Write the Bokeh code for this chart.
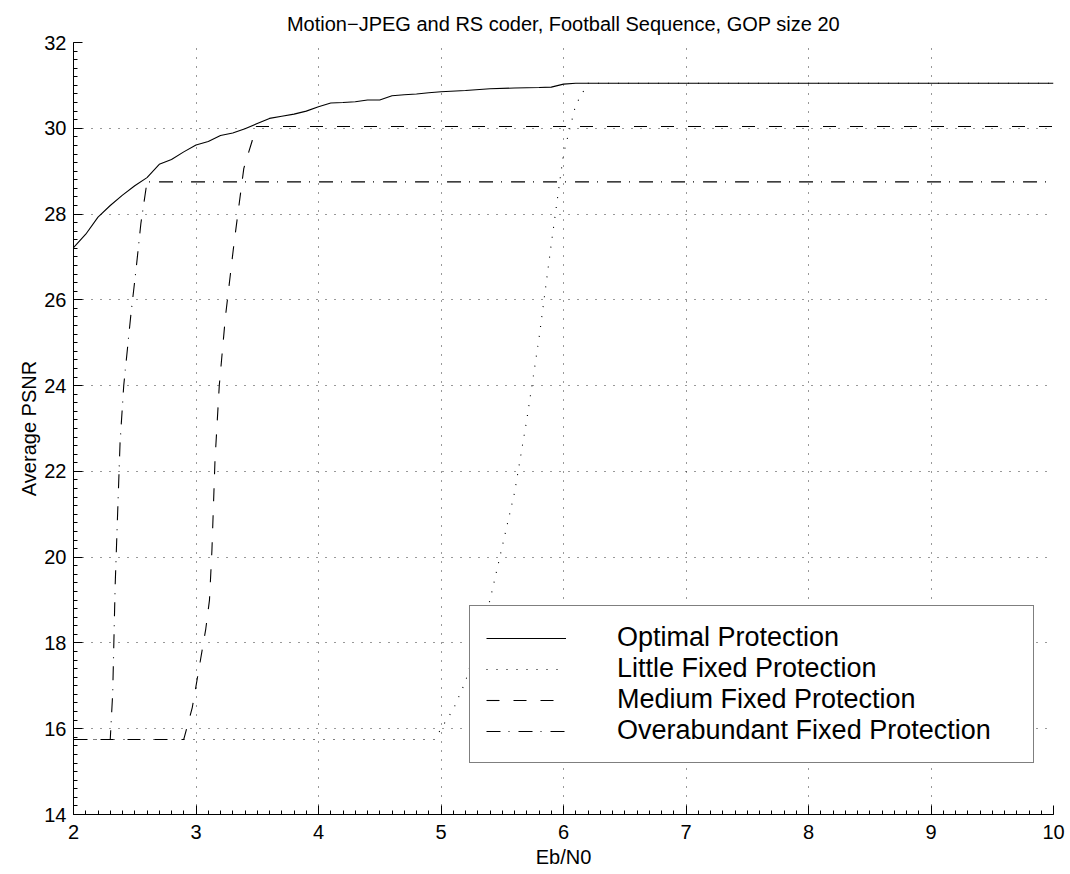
from bokeh.plotting import figure
from bokeh.embed import file_html
from bokeh.resources import INLINE
from bokeh.models import Range1d, Legend, LegendItem, SingleIntervalTicker, Title

# ---------------- data ----------------
opt_x = [2.0, 2.1, 2.2, 2.3, 2.4, 2.5, 2.6, 2.7, 2.8, 2.9, 3.0, 3.1, 3.2, 3.3, 3.4,
         3.5, 3.6, 3.7, 3.8, 3.9, 4.0, 4.1, 4.2, 4.3, 4.4, 4.5, 4.6, 4.7, 4.8, 4.9,
         5.0, 5.2, 5.4, 5.6, 5.8, 5.9, 6.0, 6.1, 6.2, 10.0]
opt_y = [27.22, 27.53, 27.93, 28.20, 28.44, 28.66, 28.85, 29.16, 29.27, 29.45, 29.61,
         29.69, 29.83, 29.89, 29.99, 30.11, 30.23, 30.28, 30.33, 30.40, 30.50, 30.59,
         30.60, 30.62, 30.66, 30.66, 30.76, 30.78, 30.80, 30.83, 30.85, 30.88, 30.92,
         30.94, 30.95, 30.96, 31.03, 31.05, 31.05, 31.05]

little_x = [2.0, 4.95, 5.0, 5.1, 5.2, 5.4, 5.6, 5.7, 5.8, 5.9, 6.0, 6.1, 6.2, 10.0]
little_y = [15.75, 15.75, 16.0, 16.45, 17.1, 19.0, 21.5, 23.2, 25.1, 27.3, 29.4, 30.55, 31.05, 31.05]

medium_x = [2.0, 2.9, 2.97, 3.01, 3.08, 3.11, 3.13, 3.155, 3.19, 3.24, 3.31, 3.39, 3.41, 3.46, 3.49, 10.0]
medium_y = [15.75, 15.75, 16.5, 17.16, 18.33, 19.0, 20.16, 22.25, 24.0, 25.6, 27.31, 29.06, 29.26, 29.72, 30.04, 30.04]

over_x = [2.0, 2.3, 2.32, 2.34, 2.36, 2.38, 2.41, 2.47, 2.51, 2.55, 2.6, 10.0]
over_y = [15.75, 15.75, 16.83, 19.33, 21.0, 22.66, 24.0, 25.7, 26.69, 27.78, 28.75, 28.75]

series_names = ["Optimal Protection", "Little Fixed Protection",
                "Medium Fixed Protection", "Overabundant Fixed Protection"]

title_text = "Motion\u2212JPEG and RS coder, Football Sequence, GOP size 20"
x_label = "Eb/N0"
y_label = "Average PSNR"

FONT = "Liberation Sans"

p = figure(output_backend="svg", toolbar_location=None,
           frame_width=980, frame_height=772,
           min_border_left=73, min_border_right=16,
           min_border_top=42, min_border_bottom=60,
           x_range=Range1d(2, 10), y_range=Range1d(14, 32))

p.outline_line_color = None
p.background_fill_color = "white"
p.border_fill_color = "white"


def make_title(text, standoff):
    t = Title(text=text, align="center", standoff=standoff)
    t.text_font = FONT
    t.text_font_size = "20px"
    t.text_font_style = "normal"
    t.text_color = "black"
    return t


p.add_layout(make_title(title_text, 16), "above")

p.xaxis.ticker = SingleIntervalTicker(interval=1, num_minor_ticks=10)
p.yaxis.ticker = SingleIntervalTicker(interval=2, num_minor_ticks=10)

for ax in (p.xaxis[0], p.yaxis[0]):
    ax.axis_line_color = "black"
    ax.axis_line_width = 1
    ax.major_tick_line_color = "black"
    ax.minor_tick_line_color = "black"
    ax.major_tick_in = 9
    ax.major_tick_out = 0
    ax.minor_tick_in = 4
    ax.minor_tick_out = 0
    ax.major_label_text_font = FONT
    ax.major_label_text_font_size = "20px"
    ax.major_label_text_color = "black"

p.xaxis.major_label_standoff = 10
p.yaxis.major_label_standoff = 7

p.add_layout(make_title(x_label, 4), "below")
p.add_layout(make_title(y_label, 4), "left")

for g in (p.xgrid[0], p.ygrid[0]):
    g.grid_line_color = "black"
    g.grid_line_alpha = 0.8
    g.grid_line_dash = "1 8"
    g.grid_line_width = 1

r_opt = p.line(opt_x, opt_y, line_color="black", line_width=1.1)
r_lit = p.line(little_x, little_y, line_color="black", line_width=1.1, line_dash="1 9")
r_med = p.line(medium_x, medium_y, line_color="black", line_width=1.1, line_dash="13 14")
r_ovr = p.line(over_x, over_y, line_color="black", line_width=1.1, line_dash="14 8 1 9")

legend = Legend(items=[LegendItem(label=n, renderers=[r]) for n, r in
                       zip(series_names, [r_opt, r_lit, r_med, r_ovr])],
                location=(396, 51))
legend.border_line_color = "black"
legend.border_line_width = 1.5
legend.background_fill_color = "white"
legend.background_fill_alpha = 1
legend.label_text_font = FONT
legend.label_text_font_size = "27px"
legend.label_text_color = "black"
legend.glyph_width = 80
legend.glyph_height = 30
legend.label_height = 30
legend.label_width = 400
legend.label_standoff = 51
legend.spacing = 0
legend.padding = 16
legend.margin = 0
p.add_layout(legend, "center")

open("out.html", "w").write(file_html(p, INLINE))
